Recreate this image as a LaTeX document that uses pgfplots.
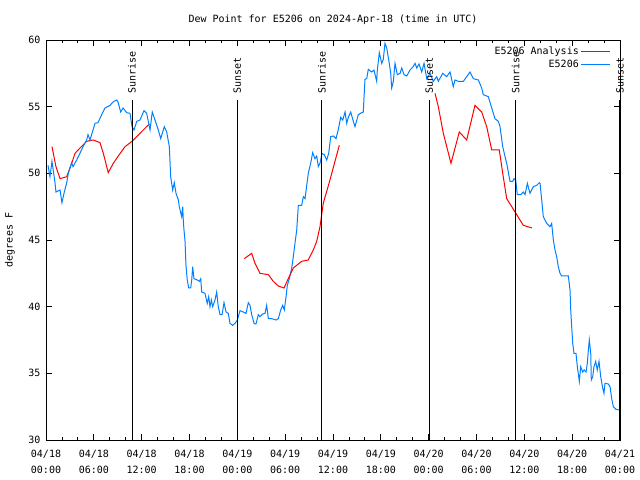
\documentclass[border=0pt]{standalone}
\usepackage{fontspec}
\setmainfont{DejaVu Sans Mono}
\usepackage{pgfplots}
\pgfplotsset{compat=1.18}
\definecolor{gblue}{RGB}{0,128,255}
\begin{document}
\fontsize{10bp}{12bp}\selectfont
\begin{tikzpicture}
\path[use as bounding box] (-46bp,-40bp) rectangle (594bp,440bp);
\begin{axis}[
  at={(0,0)}, anchor=south west,
  scale only axis, width=574bp, height=400bp,
  xmin=0, xmax=72, ymin=30, ymax=60,
  xtick={0,6,...,72}, minor x tick num=2,
  ytick={30,35,...,60},
  xticklabels={{04/18\\00:00},{04/18\\06:00},{04/18\\12:00},{04/18\\18:00},{04/19\\00:00},{04/19\\06:00},{04/19\\12:00},{04/19\\18:00},{04/20\\00:00},{04/20\\06:00},{04/20\\12:00},{04/20\\18:00},{04/21\\00:00}},
  xticklabel style={align=center, font=\fontsize{10bp}{16bp}\selectfont, yshift=-7bp},
  yticklabel style={font=\fontsize{10bp}{12bp}\selectfont, xshift=-2bp},
  /pgf/number format/assume math mode=true,
  tick align=inside, major tick length=6bp, minor tick length=3bp,
  tick style={black, line width=0.8bp},
  axis line style={line width=0.8bp},
  ylabel={degrees F},
  ylabel style={font=\fontsize{10bp}{12bp}\selectfont, at={(axis description cs:-0.0627,0.5)}, anchor=center},
  title={Dew Point for E5206 on 2024-Apr-18 (time in UTC)},
  title style={font=\fontsize{10bp}{12bp}\selectfont, at={(axis description cs:0.5,1)}, anchor=center, yshift=14bp},
  clip=false,
  legend style={draw=none, fill=none, at={(rel axis cs:1,1)}, anchor=north east, xshift=-8bp, yshift=-4bp, font=\fontsize{10bp}{12bp}\selectfont, row sep=0bp, inner sep=1bp},
  legend cell align=right,
  legend plot pos=right,
  legend image code/.code={\draw[#1] (0bp,0bp) -- (29bp,0bp);},
]
\addplot[red, line width=1bp] coordinates {
(0.75,52) (1.25,50.5) (1.76,49.6) (2.6,49.75) (3.22,50.75) (3.64,51.5) (4.26,51.9) (5.1,52.4) (5.93,52.5) (6.77,52.3) (7.19,51.5) (7.81,50.05) (8.44,50.75) (9.07,51.3) (9.91,52) (10.79,52.4) (11.38,52.75) (12.2,53.25) (12.96,53.7)
};
\addlegendentry{E5206 Analysis}
\addplot[gblue, line width=1bp] coordinates {
(0.25,50.6) (0.5,49.75) (0.75,50.9) (1.13,49.3) (1.25,48.6) (1.76,48.75) (2.0,47.8) (2.26,48.5) (2.6,49.3) (2.8,50) (3.22,50.8) (3.39,50.5) (3.85,51) (4.26,51.5) (4.64,52) (5.1,52.5) (5.27,52.9) (5.52,52.5) (5.9,53.25) (6.15,53.75) (6.52,53.8) (6.99,54.4) (7.4,54.9) (8.03,55.1) (8.4,55.35) (8.87,55.5) (9.03,55.35) (9.37,54.6) (9.66,54.9) (10.12,54.55) (10.54,54.5) (10.79,53.5) (11.04,53.25) (11.38,53.9) (11.79,54) (12.29,54.7) (12.63,54.5) (13.05,53.25) (13.33,54.6) (13.67,54) (14.09,53.25) (14.39,52.6) (14.84,53.5) (15.14,53.1) (15.47,52) (15.64,49.75) (15.89,48.75) (16.09,49.3) (16.31,48.5) (16.6,48) (16.72,47.5) (17.02,46.75) (17.15,47.5) (17.22,46.5) (17.31,45.75) (17.44,44.9) (17.56,43.1) (17.72,42) (17.9,41.4) (18.15,41.4) (18.28,42) (18.4,43) (18.56,42.1) (18.98,42) (19.23,41.9) (19.41,42.1) (19.53,41.1) (19.94,41) (20.23,40.25) (20.41,40.75) (20.57,40) (20.74,40.5) (20.91,40) (21.2,40.5) (21.41,41.1) (21.61,40) (21.83,39.4) (22.08,39.4) (22.33,40.3) (22.58,39.6) (22.87,39.5) (23.08,38.75) (23.42,38.6) (23.71,38.75) (24.0,39) (24.34,39.7) (24.75,39.6) (25.09,39.5) (25.38,40.3) (25.59,40.1) (25.8,39.4) (26.13,38.7) (26.34,38.7) (26.63,39.4) (26.84,39.25) (27.18,39.45) (27.47,39.5) (27.68,40.1) (27.89,39.1) (28.31,39.1) (28.6,39.05) (28.85,39) (29.14,39.1) (29.44,39.75) (29.69,40.1) (29.89,39.75) (30.11,40.75) (30.27,41.6) (30.52,42.1) (30.82,42.9) (31.02,43.75) (31.23,44.75) (31.45,45.75) (31.65,47.6) (32.07,47.6) (32.28,48.25) (32.49,48.1) (32.9,50) (33.2,50.75) (33.45,51.55) (33.74,51.1) (33.96,51.3) (34.16,50.5) (34.37,50.75) (34.62,51.5) (34.91,51.4) (35.21,51) (35.46,51.5) (35.71,52.75) (36.04,52.8) (36.38,52.6) (36.67,53.3) (36.97,54.2) (37.22,54) (37.51,54.6) (37.72,53.75) (37.92,54.2) (38.22,54.6) (38.55,53.9) (38.76,53.5) (39.17,54.4) (39.6,54.55) (39.8,54.6) (40.01,57.05) (40.23,57.1) (40.43,57.8) (40.86,57.6) (41.14,57.75) (41.48,56.9) (41.56,57.75) (41.81,59.05) (42.11,58.25) (42.31,58.55) (42.52,59.75) (42.74,59.4) (43.06,58.25) (43.24,57.5) (43.36,56.4) (43.57,56.9) (43.78,58.25) (44.07,57.4) (44.41,57.5) (44.62,57.9) (44.91,57.4) (45.25,57.3) (45.66,57.75) (46.0,57.95) (46.29,58.25) (46.5,57.9) (46.79,58.2) (47.13,57.6) (47.42,58.25) (47.76,57.1) (48.17,57.5) (48.58,56.9) (49.01,57.25) (49.21,56.9) (49.76,57.5) (50.26,57.25) (50.68,57.6) (51.09,56.5) (51.3,57) (51.72,56.9) (52.35,56.9) (52.77,57.25) (53.19,57.6) (53.6,57.1) (54.23,57) (54.65,56.4) (54.85,55.9) (55.48,55.75) (55.91,54.9) (56.32,54.1) (56.74,53.9) (56.95,53.5) (57.29,52) (57.58,51.25) (57.79,50.75) (57.99,50.1) (58.2,49.4) (58.54,49.4) (58.7,49.6) (58.92,49.5) (59.12,48.4) (59.55,48.4) (59.87,48.6) (60.09,48.4) (60.38,49.25) (60.71,48.5) (61.13,49) (61.55,49.1) (61.88,49.3) (61.97,49.25) (62.18,48) (62.38,46.75) (62.81,46.25) (63.22,46) (63.43,46.25) (63.64,45) (63.85,44.25) (64.06,43.75) (64.26,43) (64.48,42.5) (64.69,42.3) (65.52,42.3) (65.73,41.25) (65.82,39.75) (65.94,38.5) (66.07,37.25) (66.23,36.5) (66.48,36.5) (66.65,35.5) (66.82,34.75) (66.9,34.4) (67.07,35.5) (67.32,35.1) (67.49,35.25) (67.74,35.1) (67.9,35.75) (68.03,36.75) (68.15,37.5) (68.33,36.5) (68.4,34.5) (68.58,34.75) (68.74,35.5) (68.95,35.9) (69.15,35.25) (69.37,35.9) (69.58,34.75) (69.83,33.9) (69.99,33.5) (70.12,34.25) (70.53,34.2) (70.75,34) (70.96,33.1) (71.16,32.5) (71.5,32.3) (71.92,32.25)
};
\addlegendentry{E5206}
\addplot[red, line width=1bp, forget plot] coordinates {
(24.87,43.6) (25.8,44) (26.22,43.25) (26.84,42.5) (27.89,42.4) (28.51,41.9) (29.14,41.55) (29.85,41.4) (30.39,42.1) (31.02,42.9) (32.07,43.4) (32.9,43.5) (33.53,44.25) (33.96,44.9) (34.37,46) (34.78,47.75) (35.62,49.5) (36.25,50.9) (36.79,52.1)
};
\addplot[red, line width=1bp, forget plot] coordinates {
(48.8,56) (49.21,55) (49.84,53) (50.8,50.75) (51.84,53.1) (52.77,52.5) (53.81,55.1) (54.65,54.6) (55.28,53.5) (55.91,51.75) (56.86,51.75) (57.29,50) (57.79,48.1) (58.42,47.5) (59.04,46.9) (59.87,46.1) (60.97,45.9)
};
% sunrise / sunset markers
\addplot[black, line width=1bp, forget plot] coordinates {(10.79,30) (10.79,55.5)};
\addplot[black, line width=1bp, forget plot] coordinates {(24.0,30) (24.0,55.5)};
\addplot[black, line width=1bp, forget plot] coordinates {(34.62,30) (34.62,55.5)};
\addplot[black, line width=1bp, forget plot] coordinates {(48.08,30) (48.08,55.5)};
\addplot[black, line width=1bp, forget plot] coordinates {(58.92,30) (58.92,55.5)};
\addplot[black, line width=1bp, forget plot] coordinates {(72,30) (72,55.5)};
\node[rotate=90, anchor=west, inner sep=0pt, xshift=6bp] at (axis cs:10.79,55.5) {Sunrise};
\node[rotate=90, anchor=west, inner sep=0pt, xshift=6bp] at (axis cs:24.0,55.5) {Sunset};
\node[rotate=90, anchor=west, inner sep=0pt, xshift=6bp] at (axis cs:34.62,55.5) {Sunrise};
\node[rotate=90, anchor=west, inner sep=0pt, xshift=6bp] at (axis cs:48.08,55.5) {Sunset};
\node[rotate=90, anchor=west, inner sep=0pt, xshift=6bp] at (axis cs:58.92,55.5) {Sunrise};
\node[rotate=90, anchor=west, inner sep=0pt, xshift=6bp] at (axis cs:72,55.5) {Sunset};
\end{axis}
\end{tikzpicture}
\end{document}
